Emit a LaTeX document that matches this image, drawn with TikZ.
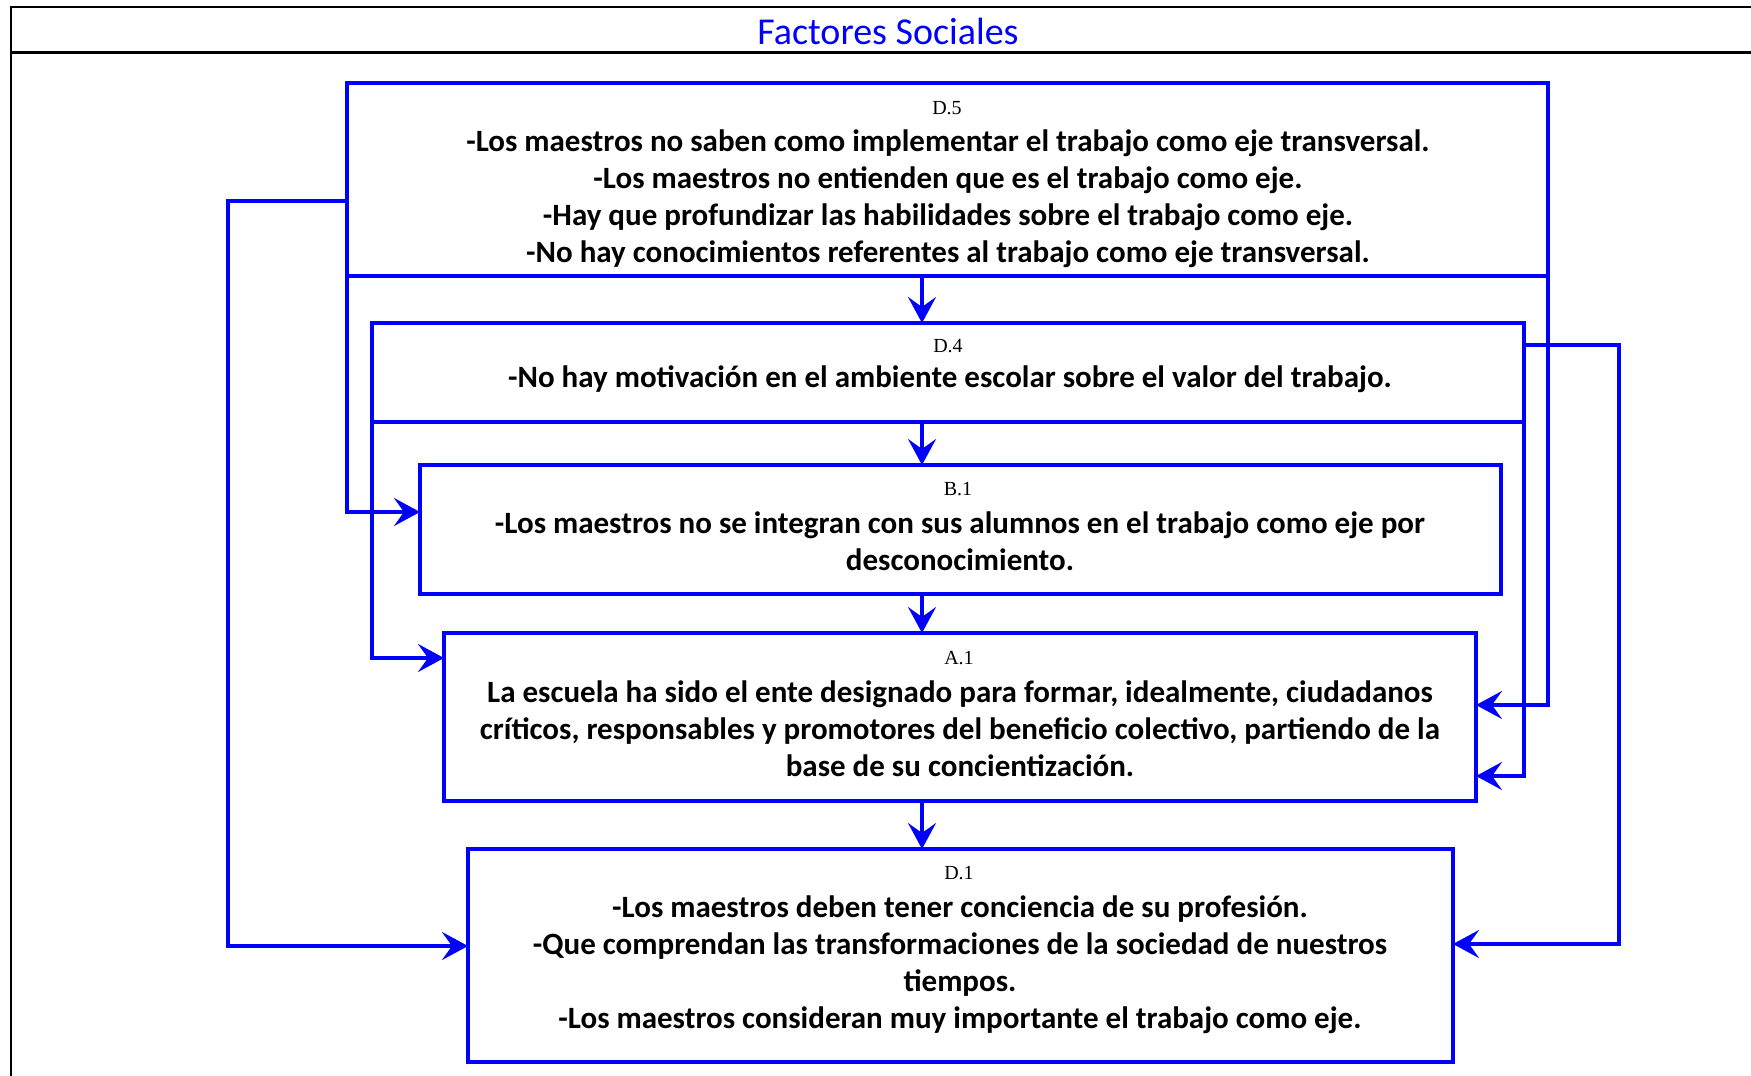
\documentclass[tikz,border=0pt]{standalone}
\usepackage{fontspec}
\setmainfont{Carlito}
\newfontfamily\lblfont{Liberation Serif}
\usetikzlibrary{arrows.meta}
\begin{document}
\begin{tikzpicture}[x=0.5pt,y=-0.5pt,
	frame/.style={draw=black,line width=1.3pt},
	box/.style={draw=blue,line width=1.8pt,inner sep=0pt,outer sep=0pt},
	link/.style={draw=blue,line width=1.7pt,-{Stealth[length=13pt,width=14pt,inset=5pt]}},
	lbl/.style={font=\lblfont\fontsize{10}{12}\selectfont,inner sep=0pt},
	txt/.style={font=\fontsize{15.5}{18.5}\selectfont\bfseries,align=center,inner sep=0pt}]
	\useasboundingbox (0,0) rectangle (1751,1076);
	\draw[frame] (11,1076) -- (11,7) -- (1751,7);
	\draw[frame] (11,52.5) -- (1751,52.5);
	\node (title) at (888,31) [font=\fontsize{19}{21}\selectfont,text=blue] {Factores Sociales};

	\node (D5) at (947.5,179.5)	[box,minimum width=600.5pt,minimum height=96.5pt]	{};
	\node (D4) at (948,372.5)	[box,minimum width=576pt,minimum height=49.5pt]	{};
	\node (B1) at (960.5,529.5)	[box,minimum width=540.5pt,minimum height=64.5pt]	{};
	\node (A1) at (960,717)	[box,minimum width=516pt,minimum height=84pt]	{};
	\node (D1) at (960.5,955.5)	[box,minimum width=492.5pt,minimum height=106.5pt]	{};

	\node (D5l) at (947,108)	[lbl]	{D.5};
	\node (D5t) at (948,198.5)	[txt]	{-Los maestros no saben como implementar el trabajo como eje transversal.\\
		-Los maestros no entienden que es el trabajo como eje.\\
		-Hay que profundizar las habilidades sobre el trabajo como eje.\\
		-No hay conocimientos referentes al trabajo como eje transversal.};
	\node (D4l) at (948,346)	[lbl]	{D.4};
	\node (D4t) at (950,379.5)	[txt]	{-No hay motivación en el ambiente escolar sobre el valor del trabajo.};
	\node (B1l) at (958,489)	[lbl]	{B.1};
	\node (B1t) at (960,541.5)	[txt]	{-Los maestros no se integran con sus alumnos en el trabajo como eje por\\
		desconocimiento.};
	\node (A1l) at (959,658)	[lbl]	{A.1};
	\node (A1t) at (960,728.5)	[txt]	{La escuela ha sido el ente designado para formar, idealmente, ciudadanos\\
		críticos, responsables y promotores del beneficio colectivo, partiendo de la\\
		base de su concientización.};
	\node (D1l) at (959,873)	[lbl]	{D.1};
	\node (D1t) at (960,964.5)	[txt]	{-Los maestros deben tener conciencia de su profesión.\\
		-Que comprendan las transformaciones de la sociedad de nuestros\\
		tiempos.\\
		-Los maestros consideran muy importante el trabajo como eje.};

	\coordinate (ax) at (922,0);
	\draw[link] (D5.south -| ax) -- (D4.north -| ax);
	\draw[link] (D4.south -| ax) -- (B1.north -| ax);
	\draw[link] (B1.south -| ax) -- (A1.north -| ax);
	\draw[link] (A1.south -| ax) -- (D1.north -| ax);

	\draw[link] (D5.west |- 0,201) -- ++(-119,0) |- (D1.west |- 0,946);
	\draw[link] (D5.south west) |- (B1.west |- 0,512);
	\draw[link] (D4.south west) |- (A1.west |- 0,658);
	\draw[link] (D5.south east) |- (A1.east |- 0,705);
	\draw[link] (D4.south east) |- (A1.east |- 0,776);
	\draw[link] (D4.east |- 0,345) -- ++(95,0) |- (D1.east |- 0,944);
\end{tikzpicture}
\end{document}
